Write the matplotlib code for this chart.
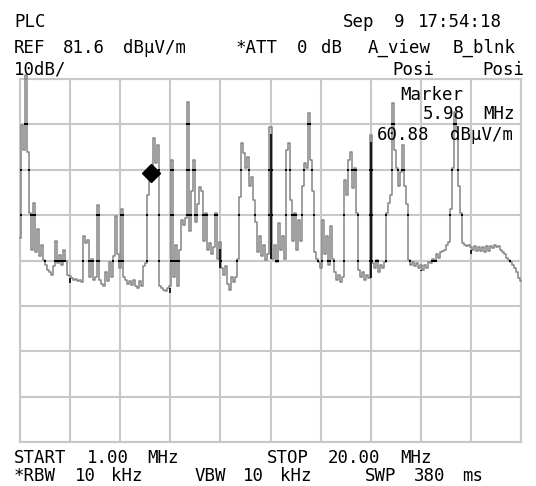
import numpy as np
import matplotlib.pyplot as plt

plt.rcParams['font.family'] = ['DejaVu Sans Mono', 'DejaVu Sans']

start_mhz = 1.0
stop_mhz = 20.0
ref_level = 81.6
db_per_div = 10

marker_mhz = 5.98
marker_level = 60.88

# trace (dBuV/m), one sample about every 0.076 MHz
levels = [
    46.5, 71.4, 66.0, 82.5, 65.5, 52.0, 44.0, 54.3, 43.4, 48.5,
    42.5, 45.0, 41.8, 40.7, 39.6, 39.0, 38.5, 40.3, 46.0, 41.0,
    42.9, 40.5, 44.0, 41.5, 38.5, 38.1, 37.8, 37.4, 37.6, 37.1,
    37.4, 36.8, 46.9, 45.5, 46.2, 38.0, 42.0, 37.4, 38.0, 53.9,
    37.4, 36.5, 35.9, 39.0, 37.0, 41.2, 38.0, 42.5, 51.3, 43.0,
    40.0, 53.0, 38.0, 37.4, 36.5, 37.0, 36.3, 37.4, 36.0, 35.5,
    37.0, 36.0, 40.3, 41.0, 56.0, 62.0, 60.9, 68.6, 63.0, 67.1,
    36.0, 35.5, 35.2, 34.8, 35.5, 36.0, 63.8, 38.0, 45.0, 36.0,
    44.0, 50.6, 49.5, 51.0, 76.5, 48.0, 57.0, 63.8, 50.0, 54.0,
    57.8, 57.0, 46.0, 52.0, 44.0, 45.5, 43.0, 44.5, 52.1, 42.0,
    45.6, 40.0, 38.5, 40.3, 36.5, 35.2, 38.0, 36.8, 38.0, 42.0,
    55.7, 67.5, 65.3, 62.0, 64.4, 58.0, 60.0, 55.0, 50.0, 43.4,
    47.0, 42.5, 45.0, 41.8, 43.0, 71.0, 42.0, 45.0, 41.2, 49.9,
    44.0, 47.0, 42.0, 66.0, 67.5, 55.0, 46.0, 52.0, 44.0, 50.6,
    46.0, 58.0, 63.0, 62.0, 74.1, 63.8, 57.0, 43.4, 42.0, 41.2,
    40.0, 50.6, 43.0, 47.0, 40.7, 49.1, 42.0, 39.0, 37.4, 38.5,
    36.8, 38.0, 59.4, 56.0, 63.8, 65.5, 57.5, 62.0, 52.0, 39.6,
    38.0, 39.0, 37.4, 38.5, 37.8, 69.3, 41.0, 40.0, 41.8, 39.0,
    40.5, 40.0, 41.2, 52.1, 54.3, 56.0, 76.3, 66.0, 62.0, 58.0,
    61.0, 67.1, 58.0, 54.0, 41.8, 40.5, 41.2, 40.3, 41.0, 40.0,
    40.7, 39.6, 40.5, 40.0, 41.2, 41.0, 42.0, 41.5, 43.0, 42.2,
    43.4, 43.8, 44.0, 45.0, 45.6, 53.0, 62.0, 74.3, 70.0, 58.0,
    52.0, 45.5, 45.0, 44.7, 45.1, 44.5, 44.0, 44.7, 43.8, 44.5,
    43.6, 44.5, 43.4, 44.7, 43.8, 44.9, 44.3, 45.0, 44.5, 44.7,
    44.0, 43.4, 43.0, 42.2, 41.8, 41.2, 40.5, 40.0, 39.0, 37.8,
    37.0,
]

# screen annotations: (text, left px, baseline px)
header_lines = [
    ("PLC", 14, 27), ("Sep", 343, 27), ("9 17:54:18", 394, 27),
    ("REF 81.6 dBμV/m", 14, 53), ("*ATT 0 dB", 236, 53), ("A_view B_blnk", 368, 53),
    ("10dB/", 14, 75), ("Posi", 392, 75), ("Posi", 482, 75),
    ("Marker", 400, 100), ("5.98 MHz", 423, 119), ("60.88 dBμV/m", 377, 140),
]
footer_lines = [
    ("START 1.00 MHz", 14, 463), ("STOP 20.00 MHz", 267, 463),
    ("*RBW 10 kHz", 14, 481), ("VBW 10 kHz", 195, 481), ("SWP 380 ms", 365, 481),
]

W, H = 536, 486
PITCH = 12.1
grid_col = '#c8c8c8'
trace_col = '#858585'

freqs = np.linspace(start_mhz, stop_mhz, len(levels))
lev = np.array(levels)
bottom = ref_level - 8 * db_per_div

fig = plt.figure(figsize=(W / 100, H / 100), dpi=100)
ax = fig.add_axes([20 / W, (H - 442) / H, 501 / W, 363 / H])
ax.set_xlim(start_mhz, stop_mhz)
ax.set_ylim(bottom, ref_level)
xgrid = np.linspace(start_mhz, stop_mhz, 11)
ygrid = np.linspace(bottom, ref_level, 9)
ax.set_xticks(xgrid)
ax.set_yticks(ygrid)
ax.grid(True, color=grid_col, lw=1.5)
ax.tick_params(length=0, labelbottom=False, labelleft=False)
for s in ax.spines.values():
    s.set_color(grid_col)
    s.set_linewidth(1.5)

ax.plot(freqs, lev, drawstyle='steps-mid', color=trace_col, lw=1.1,
        clip_on=False, zorder=3)

# trace pixels on top of the grid come out black on the analyser screen
n = len(lev)
for gx in xgrid:
    i = int(np.argmin(np.abs(freqs - gx)))
    lo = min(lev[max(i - 1, 0)], lev[min(i + 1, n - 1)])
    if lev[i] > lo:
        ax.vlines(freqs[i], lo, lev[i] - 1.5, color='black', lw=1.2, zorder=4)
cross_x, cross_y = [], []
for i in range(n - 1):
    a, b = lev[i], lev[i + 1]
    for g in ygrid[1:-1]:
        if min(a, b) < g < max(a, b):
            cross_x.append((freqs[i] + freqs[i + 1]) / 2)
            cross_y.append(g)
ax.plot(cross_x, cross_y, 's', color='black', ms=2, mew=0, zorder=4)

ax.plot(marker_mhz, marker_level, 'D', color='black', ms=9, zorder=5)


def put_line(text, x0, y):
    pos = 0
    for word in text.split(' '):
        if word:
            fig.text((x0 + pos * PITCH) / W, 1 - y / H, word, fontsize=12.5,
                     ha='left', va='baseline', color='black', zorder=6)
        pos += len(word) + 1


for text, x0, y in header_lines + footer_lines:
    put_line(text, x0, y)

fig.savefig('out.png', dpi=100, facecolor='white')
